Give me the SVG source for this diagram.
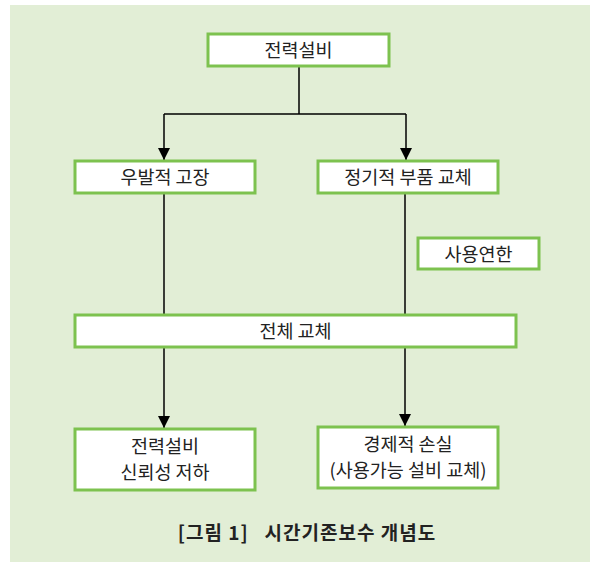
<svg xmlns="http://www.w3.org/2000/svg" width="594" height="562" viewBox="0 0 594 562">
  <defs>
    <marker id="arr" markerWidth="12" markerHeight="12" viewBox="0 0 12 12" refX="12" refY="6" orient="auto" markerUnits="userSpaceOnUse">
      <path d="M0,0 L12,6 L0,12 Z" fill="#000"/>
    </marker>
    <style>
      .box { fill: #ffffff; stroke: #7dc24f; stroke-width: 3; }
      .t { font-family: "Noto Sans CJK KR", "Noto Sans", sans-serif; font-size: 18.5px; fill: #222; text-anchor: middle; }
      .cap { font-family: "Noto Sans CJK KR", "Noto Sans", sans-serif; font-size: 19px; font-weight: 600; fill: #222; text-anchor: middle; letter-spacing: 1px; }
      .ln { stroke: #000; stroke-width: 1.5; fill: none; }
    </style>
  </defs>
  <rect x="0" y="0" width="594" height="562" fill="#ffffff"/>
  <rect x="10" y="5" width="580" height="557" fill="#e2eed6"/>

  <g id="connectors">
    <path class="ln" d="M299,66 V114 M164,114 H406"/>
    <path class="ln" d="M164,114 V160" marker-end="url(#arr)"/>
    <path class="ln" d="M406,114 V160" marker-end="url(#arr)"/>
    <path class="ln" d="M164,193 V314"/>
    <path class="ln" d="M405,193 V314"/>
    <path class="ln" d="M164,347 V428" marker-end="url(#arr)"/>
    <path class="ln" d="M405,347 V426" marker-end="url(#arr)"/>
  </g>

  <g id="n1">
    <rect class="box" x="208" y="34" width="181" height="32"/>
    <text class="t" x="298.5" y="57">전력설비</text>
  </g>
  <g id="n2">
    <rect class="box" x="75" y="161" width="180" height="32"/>
    <text class="t" x="165" y="184">우발적 고장</text>
  </g>
  <g id="n3">
    <rect class="box" x="318" y="161" width="180" height="32"/>
    <text class="t" x="408" y="184">정기적 부품 교체</text>
  </g>
  <g id="n4">
    <rect class="box" x="418" y="238" width="121" height="31"/>
    <text class="t" x="478.5" y="260.5">사용연한</text>
  </g>
  <g id="n5">
    <rect class="box" x="75" y="315" width="441" height="32"/>
    <text class="t" x="295.5" y="338">전체 교체</text>
  </g>
  <g id="n6">
    <rect class="box" x="75" y="429" width="180" height="61"/>
    <text class="t" x="165" y="453">전력설비</text>
    <text class="t" x="165" y="479">신뢰성 저하</text>
  </g>
  <g id="n7">
    <rect class="box" x="318" y="427" width="180" height="61"/>
    <text class="t" x="408" y="451">경제적 손실</text>
    <text class="t" x="408" y="477">(사용가능 설비 교체)</text>
  </g>
  <text class="cap" x="307" y="540" xml:space="preserve">[그림 1]   시간기존보수 개념도</text>
</svg>
